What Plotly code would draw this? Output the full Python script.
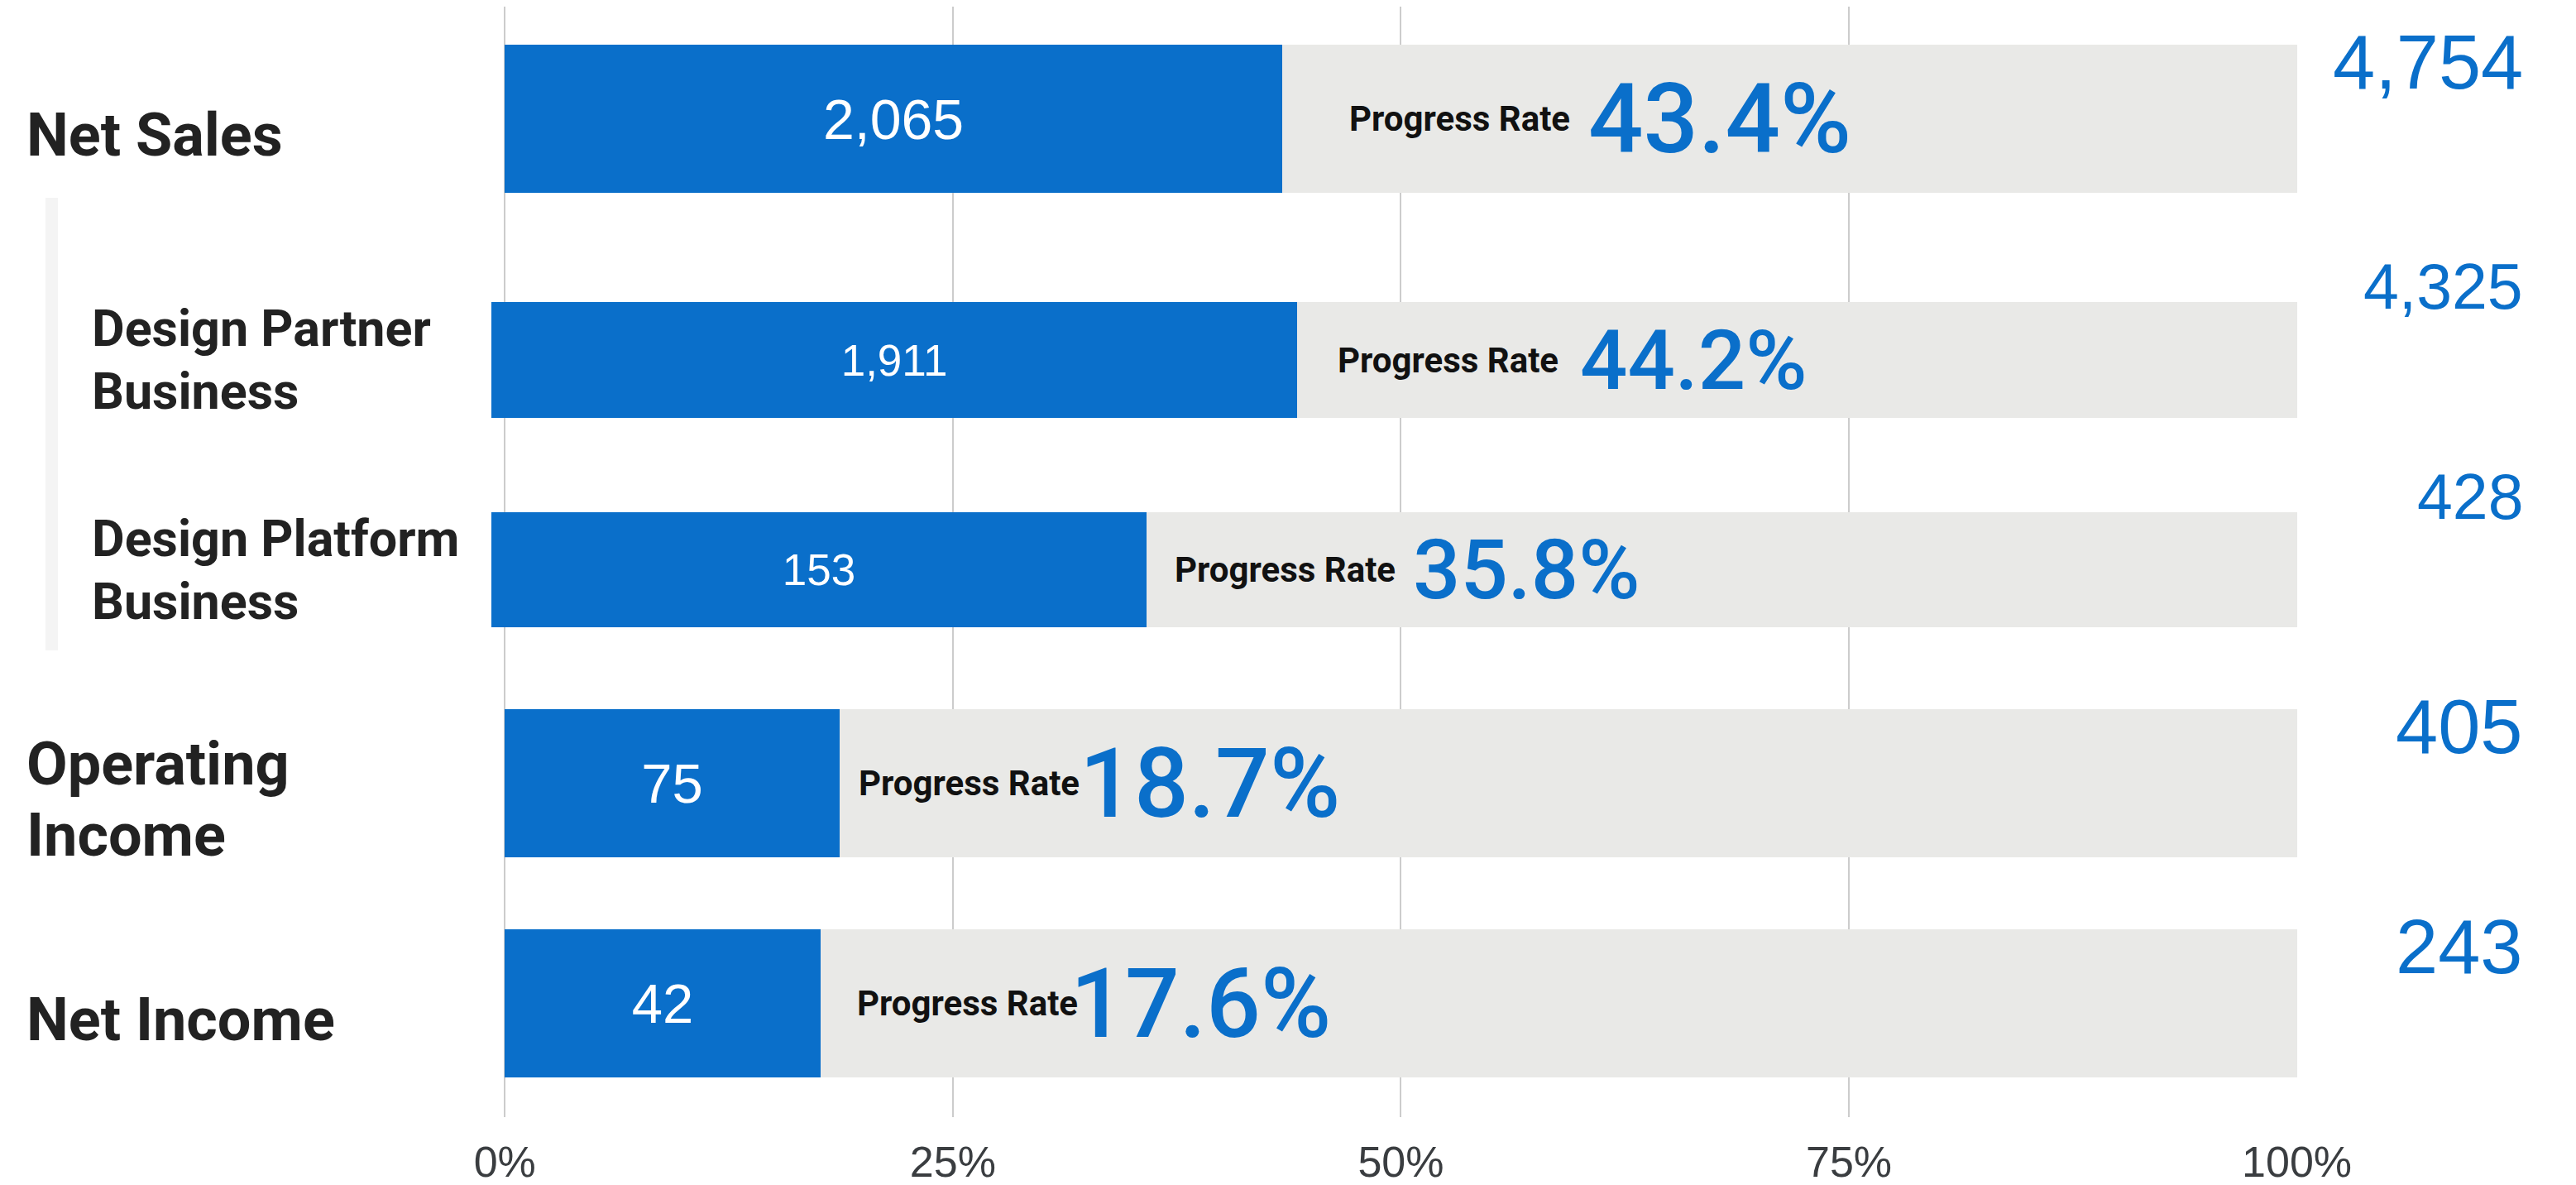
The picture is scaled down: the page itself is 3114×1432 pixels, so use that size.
import plotly.graph_objects as go

# ---------------- data ----------------
categories = ["Net Sales", "Design Partner<br>Business", "Design Platform<br>Business",
              "Operating<br>Income", "Net Income"]
actual = [2065, 1911, 153, 75, 42]
forecast = [4754, 4325, 428, 405, 243]
progress_rate = [43.4, 44.2, 35.8, 18.7, 17.6]
axis_ticks = [0, 25, 50, 75, 100]
axis_tick_labels = ["0%", "25%", "50%", "75%", "100%"]

# ---------------- layout / style ----------------
# the page adds an 8px body margin, so the figure is drawn 8px smaller
W, H = 3106, 1424
L, T, B = 586, 0, 82
R = W - 2769
PW = W - L - R
PH = H - T - B

BLUE = "#0a6fca"
GRAY = "#e9e9e7"
is_sub = [False, True, True, False, False]
row_center = [135.5, 427, 680.5, 938.5, 1204.5]   # layout rows (px from plot top)
row_height = [179, 140, 139, 179, 179]
row_base = [-0.75 if s else 0 for s in is_sub]

inside_size = [68, 53, 53, 67, 67]
pr_pad = [79, 47, 32, 21, 42]
num_pad = [368, 340, 320, 288, 300]
num_size = [117, 101, 101, 116, 116]


def px_x(p):
    return (p - L) / PW


fig = go.Figure()

fig.add_trace(go.Bar(
    y=row_center, x=[100 - b for b in row_base], base=row_base, width=row_height,
    orientation="h", marker=dict(color=GRAY, line=dict(width=0)),
    hoverinfo="skip", showlegend=False,
))
fig.add_trace(go.Bar(
    y=row_center, x=[p - b for p, b in zip(progress_rate, row_base)], base=row_base,
    width=row_height, orientation="h", marker=dict(color=BLUE, line=dict(width=0)),
    text=[f"{v:,}" for v in actual], textposition="inside", insidetextanchor="middle",
    textangle=0, constraintext="none",
    textfont=dict(color="white", size=inside_size, family="Liberation Sans"),
    hoverinfo="skip", showlegend=False,
))

ann = []
for i, cat in enumerate(categories):
    sub = is_sub[i]
    top = row_center[i] - row_height[i] / 2
    # left category labels
    fs = 61 if sub else 72
    pitch = 76 if sub else 86
    lines = cat.split("<br>")
    txt = "<br>".join(f"<span style='font-size:{fs}px'>{ln}</span>" for ln in lines)
    ann.append(dict(
        x=0, xref="paper", xshift=(109 if sub else 30) - 8 - L, xanchor="left",
        y=row_center[i], yref="y", yanchor="middle", yshift=(0 if sub else -20),
        text=txt, showarrow=False, align="left",
        font=dict(family="Roboto", size=pitch / 1.3, color="#222222", weight=700),
    ))
    # progress rate caption
    ann.append(dict(
        x=progress_rate[i], xref="x", xshift=pr_pad[i], xanchor="left",
        y=row_center[i], yref="y", yanchor="middle",
        text="Progress Rate", showarrow=False,
        font=dict(family="Roboto", size=42, color="#111111", weight=700),
    ))
    # progress rate big number
    ann.append(dict(
        x=progress_rate[i], xref="x", xshift=num_pad[i], xanchor="left",
        y=row_center[i], yref="y", yanchor="middle",
        text=f"{progress_rate[i]:.1f}%", showarrow=False,
        font=dict(family="Roboto", size=num_size[i], color=BLUE, weight=500),
    ))
    # forecast totals on the right
    ann.append(dict(
        x=1, xref="paper", xshift=275, xanchor="right",
        y=top, yref="y", yanchor="middle", yshift=(19 if sub else -21),
        text=f"{forecast[i]:,}", showarrow=False,
        font=dict(family="Liberation Sans", size=(77 if sub else 92), color=BLUE),
    ))

fig.update_layout(
    width=W, height=H,
    margin=dict(l=L, r=R, t=T, b=B, pad=0),
    paper_bgcolor="white", plot_bgcolor="white",
    barmode="overlay", bargap=0,
    annotations=ann,
    shapes=[dict(type="rect", xref="paper", yref="y",
                 x0=px_x(47), x1=px_x(62), y0=231, y1=778,
                 fillcolor="#f4f4f4", line=dict(width=0), layer="below")],
    xaxis=dict(range=[-0.75, 100.02], tickvals=axis_ticks, ticktext=axis_tick_labels,
               showgrid=True, gridcolor="#cccccc", gridwidth=1.5, zeroline=False,
               showline=False, ticks="", ticklabelstandoff=19, automargin=False,
               tickfont=dict(family="Liberation Sans", size=52, color="#3a3d40"),
               fixedrange=True),
    yaxis=dict(range=[PH, 0], showgrid=False, zeroline=False, showticklabels=False,
               showline=False, ticks="", fixedrange=True, automargin=False),
)

fig.write_html("out.html")
